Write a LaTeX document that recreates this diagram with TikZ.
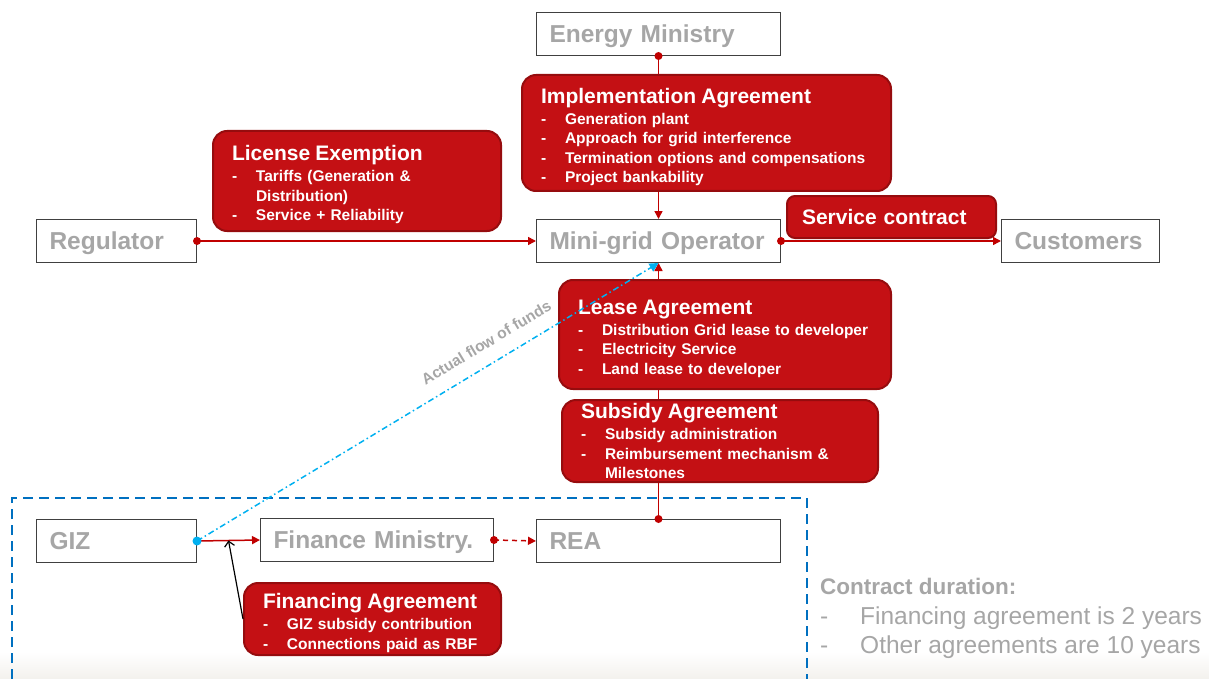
\documentclass[tikz,border=0pt]{standalone}
\usepackage{fontspec}
\setmainfont{Liberation Sans}
\usepackage{tikz}
\usetikzlibrary{calc,arrows.meta}

\definecolor{dealred}{RGB}{196,16,20}
\definecolor{dealedge}{RGB}{150,12,14}
\definecolor{linkred}{RGB}{192,0,0}
\definecolor{partygray}{RGB}{166,166,166}
\definecolor{boxline}{RGB}{64,64,64}
\definecolor{frameblue}{RGB}{0,112,192}
\definecolor{fundsblue}{RGB}{0,176,240}
\definecolor{floor}{RGB}{243,241,237}

\hyphenpenalty=10000
\exhyphenpenalty=10000
% title line of an agreement; the optional strut pushes the block down
\newcommand{\dealhead}[2][23pt]{\rule{0pt}{#1}{\fontsize{21}{24}\selectfont #2}\\[1.5pt]}
\newcommand{\dealitem}{\makebox[24pt][l]{-}}

\begin{document}
\begin{tikzpicture}[x=1pt, y=-1pt,
  party/.style={draw=boxline, line width=1pt, fill=white, text=partygray,
    font=\fontsize{24.5}{28}\selectfont\bfseries, minimum height=43pt,
    text height=17.5pt, text depth=0pt,
    inner xsep=13pt, inner ysep=0pt, align=left, anchor=north west},
  deal/.style={draw=dealedge, line width=2pt, fill=dealred, rounded corners=14pt,
    text=white, font=\fontsize{15.5}{19.5}\selectfont\bfseries,
    inner xsep=19pt, inner ysep=0pt, align=left, anchor=north west},
  link/.style={linkred, line width=1.5pt},
  ahead/.style={-{Triangle[length=8pt,width=8pt]}}]
\useasboundingbox (0,0) rectangle (1209,679);
\shade[top color=white, bottom color=floor] (0,652) rectangle (1209,679);

% project frame
\draw[frameblue, line width=2.5pt, dash pattern=on 10pt off 6pt] (12,679) -- (12,498) -- (807,498) -- (807,679);

% parties
\node[party, text width=218pt] (energy) at (536,12) {Energy Ministry};
\node[party, text width=134pt] (reg) at (36,219) {Regulator};
\node[party, text width=218pt] (mgo) at (536,219) {Mini-grid Operator};
\node[party, text width=132pt] (cust) at (1001,219) {Customers};
\node[party, text width=134pt] (giz) at (36,519) {GIZ};
\node[party, text width=207pt] (fin) at (260,518) {Finance Ministry.};
\node[party, text width=218pt] (rea) at (536,519) {REA};

% agreements
\node[deal, text width=331pt, minimum height=116pt] (impl) at (521,74) {\dealhead{Implementation Agreement}
  \dealitem Generation plant\\ \dealitem Approach for grid interference\\
  \dealitem Termination options and compensations\\ \dealitem Project bankability};
\node[deal, text width=250pt, minimum height=100pt] (lic) at (212,130) {\dealhead{License Exemption}
  \dealitem Tariffs (Generation \&\\ \hspace*{24pt}Distribution)\\ \dealitem Service + Reliability};
\node[deal, text width=294pt, minimum height=109pt] (lease) at (558,279) {\dealhead{Lease Agreement}
  \dealitem Distribution Grid lease to developer\\ \dealitem Electricity Service\\
  \dealitem Land lease to developer};
\node[deal, text width=278pt, minimum height=82pt] (subsidy) at (561,399) {\dealhead[15pt]{Subsidy Agreement}
  \dealitem Subsidy administration\\ \dealitem Reimbursement mechanism \&\\ \hspace*{24pt}Milestones};
\node[deal, text width=219pt, minimum height=72pt] (fa) at (243,582) {\dealhead{Financing Agreement}
  \dealitem GIZ subsidy contribution\\ \dealitem Connections paid as RBF};
\node[deal, text width=179pt, minimum height=42pt, inner xsep=15pt, rounded corners=8pt,
  font=\fontsize{21}{24}\selectfont\bfseries] (svc) at (786,195) {Service contract};

% contracts between the parties
\draw[link] (energy.south) -- (energy.south |- impl.north);
\draw[link, ahead] (mgo.north |- impl.south) -- (mgo.north);
\draw[link, ahead] (reg.east) -- (mgo.west);
\draw[link, ahead] (mgo.east) -- (cust.west);
\draw[link, ahead] (mgo.south |- lease.north) -- (mgo.south);
\draw[link] (mgo.south |- lease.south) -- (mgo.south |- subsidy.north);
\draw[link] (rea.north) -- (rea.north |- subsidy.south);
\draw[link, ahead] (giz.east) -- (fin.west);
\draw[link, ahead, dash pattern=on 5pt off 4pt] (fin.east) -- (rea.west);
\fill[linkred] (energy.south) circle (4pt) (reg.east) circle (4pt) (mgo.east) circle (4pt)
  (rea.north) circle (4pt) (fin.east) circle (4pt);

\draw[black, line width=1.2pt, -{Straight Barb[length=5pt,width=10pt]}] (fa.west) -- ($(giz.east)!0.5!(fin.west)$);

% money goes straight to the operator
\draw[fundsblue, line width=1.5pt, dash pattern=on 6pt off 3pt on 1.5pt off 3pt, -{Triangle[length=9pt,width=9pt]}]
  (giz.east) -- node[sloped, above=11pt, pos=0.65, text=partygray, font=\fontsize{15.5}{18}\selectfont\bfseries] {Actual flow of funds} (mgo.south);
\fill[fundsblue] (giz.east) circle (4.5pt);

\node[anchor=west, inner sep=0pt, text=partygray, font=\fontsize{24.5}{29}\selectfont, align=left] (dur) at (820,618)
  {{\fontsize{22.5}{26}\selectfont\bfseries Contract duration:}\\[1pt]
   \makebox[40pt][l]{-}Financing agreement is 2 years\\ \makebox[40pt][l]{-}Other agreements are 10 years};
\end{tikzpicture}
\end{document}
